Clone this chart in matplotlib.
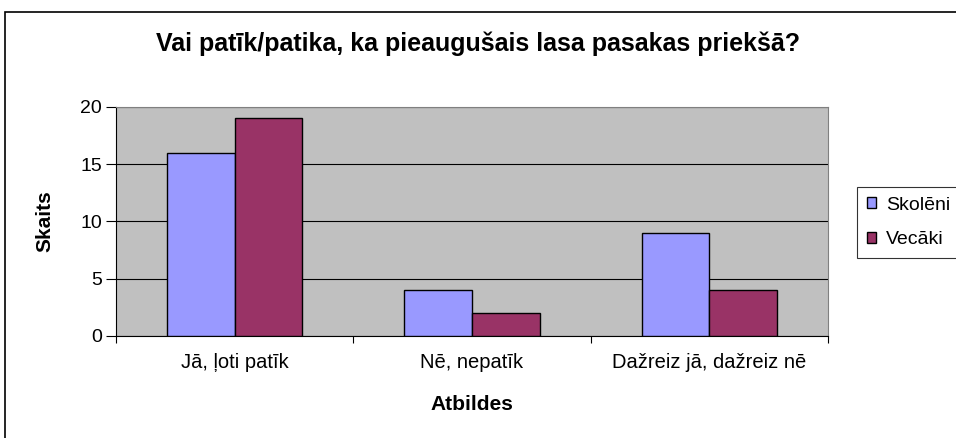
import numpy as np
import matplotlib
matplotlib.use('Agg')
import matplotlib.pyplot as plt
from matplotlib.patches import Rectangle

plt.rcParams['font.family'] = ['Liberation Sans', 'DejaVu Sans']

# dati
atbildes = ['Jā, ļoti patīk', 'Nē, nepatīk', 'Dažreiz jā, dažreiz nē']
skoleni = [16, 4, 9]
vecaki = [19, 2, 4]
y_ticks = [0, 5, 10, 15, 20]

fig = plt.figure(figsize=(9.56, 4.38), dpi=100)
fig.patch.set_facecolor('white')

# raama ap visu diagrammu
fig.patches.append(Rectangle((5 / 956, -0.05), 1.1, 1 - 12 / 438 + 0.05,
                             transform=fig.transFigure, fill=False,
                             edgecolor='black', linewidth=1.2))

ax = fig.add_axes([116 / 956, 1 - 336 / 438, 712 / 956, 229 / 438])
ax.set_facecolor('#C0C0C0')

x = np.arange(len(atbildes))
w = 1 / 3.5
ax.bar(x - w / 2, skoleni, w, color='#9999FF', edgecolor='black', linewidth=1,
       label='Skolēni', zorder=3)
ax.bar(x + w / 2, vecaki, w, color='#993366', edgecolor='black', linewidth=1,
       label='Vecāki', zorder=3)

ax.set_xlim(-0.5, len(atbildes) - 0.5)
ax.set_ylim(0, 20)
ax.set_yticks(y_ticks)
ax.yaxis.grid(True, color='black', linewidth=0.8, zorder=1)

# iedaļas starp kategorijām, nosaukumi centrā
ax.set_xticks(np.arange(len(atbildes) + 1) - 0.5)
ax.set_xticklabels([])
ax.set_xticks(x, minor=True)
ax.set_xticklabels(atbildes, minor=True, fontsize=14.5)
ax.tick_params(axis='x', which='minor', length=0, pad=12)
ax.tick_params(axis='x', which='major', length=5, direction='out')
ax.tick_params(axis='y', length=7, direction='out', labelsize=14, pad=3)

for s in ['top', 'right']:
    ax.spines[s].set_color('#808080')
for s in ['left', 'bottom']:
    ax.spines[s].set_color('black')

ax.set_xlabel('Atbildes', fontsize=15, fontweight='bold', va='center')
ax.xaxis.set_label_coords(0.5, (336 - 404) / 229)
ax.set_ylabel('Skaits', fontsize=15, fontweight='bold', va='center')
ax.yaxis.set_label_coords((45 - 116) / 712, 0.5)

fig.text(0.5, 1 - 44 / 438, 'Vai patīk/patika, ka pieaugušais lasa pasakas priekšā?',
         ha='center', va='center', fontsize=18, fontweight='bold')

leg = fig.legend(loc='upper left', bbox_to_anchor=(857 / 956, 1 - 187 / 438),
                 fancybox=False, edgecolor='black', fontsize=14,
                 handlelength=0.5, handleheight=0.5, handletextpad=0.5,
                 borderpad=0.5, labelspacing=0.9, borderaxespad=0)
leg.get_frame().set_linewidth(0.8)

fig.savefig('out.png', dpi=100)
